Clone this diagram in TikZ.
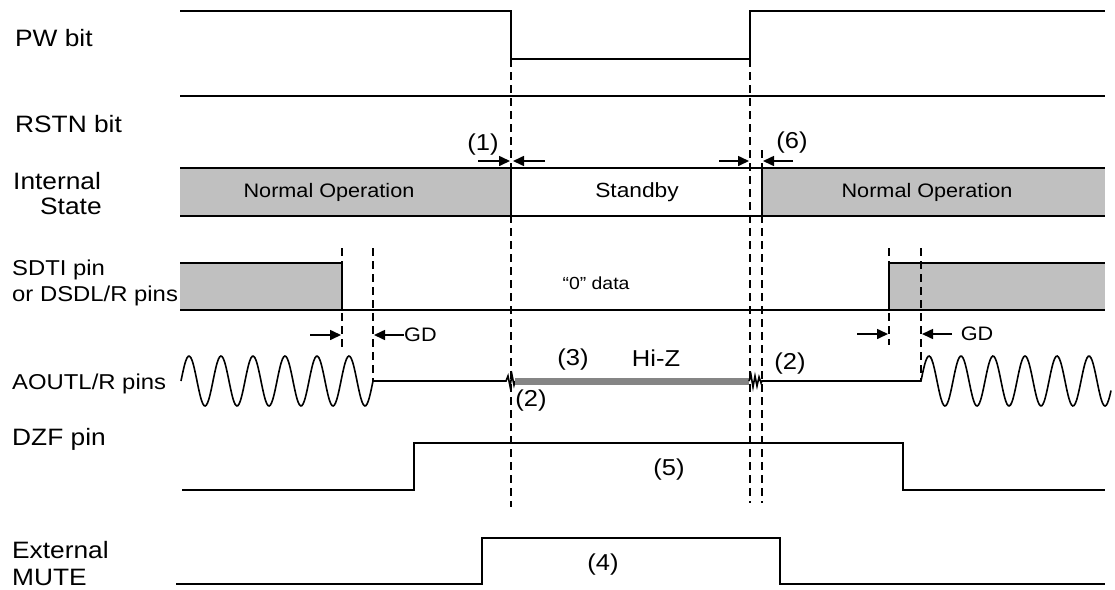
\documentclass[tikz,border=0pt]{standalone}
\usepackage{fontspec}
\setmainfont{Liberation Sans}[FakeStretch=1.11]
\usepackage{xcolor}
\usepackage{tikz}
\usetikzlibrary{arrows.meta}
\definecolor{boxgray}{HTML}{C0C0C0}
\definecolor{hizgray}{HTML}{858585}
\tikzset{
  signal/.style={draw=black,line width=1.6pt},
  guide/.style={draw=black,line width=1.4pt,dash pattern=on 8pt off 5pt},
  gap/.style={-{Triangle[length=11pt,width=10pt]},draw=black,line width=1.6pt},
  hizbar/.style={draw=hizgray,line width=7pt},
  rowlabel/.style={anchor=base west,inner sep=0pt,font=\fontsize{23.7}{26}\selectfont},
  pinlabel/.style={anchor=base west,inner sep=0pt,font=\fontsize{21.5}{24}\selectfont},
  note/.style={inner sep=0pt,font=\fontsize{23}{26}\selectfont},
  statetext/.style={inner sep=0pt,font=\fontsize{19.5}{22}\selectfont}
}

\begin{document}
\begin{tikzpicture}[x=1pt,y=-1pt]
  \useasboundingbox (0,0) rectangle (1115,589);
  % row labels
  \node[rowlabel] (pw) at (15,46) {PW bit};
  \node[rowlabel] (rstn) at (15,132) {RSTN bit};
  \node[rowlabel] (intl) at (13,189) {Internal};
  \node[rowlabel] (state) at (40,214) {State};
  \node[pinlabel] (sdti) at (12,275) {SDTI pin};
  \node[pinlabel] (dsdl) at (12,301) {or DSDL/R pins};
  \node[pinlabel] (aout) at (12,389) {AOUTL/R pins};
  \node[rowlabel] (dzf) at (12,445) {DZF pin};
  \node[rowlabel] (ext) at (12,558) {External};
  \node[rowlabel] (mute) at (12,585) {MUTE};
  % shaded areas
  \fill[boxgray] (180,168) rectangle (511,216);
  \fill[boxgray] (762,168) rectangle (1105,216);
  \fill[boxgray] (180,263) rectangle (342,310);
  \fill[boxgray] (889,263) rectangle (1105,310);
  % timing guides
  \draw[guide] (511,59) -- (511,507);
  \draw[guide] (750,59) -- (750,503);
  \draw[guide] (762,150) -- (762,503);
  \draw[guide] (342,248) -- (342,347);
  \draw[guide] (373,248) -- (373,381);
  \draw[guide] (889,248) -- (889,345);
  \draw[guide] (921,248) -- (921,381);
  % PW bit and RSTN bit
  \draw[signal] (180,11) -- (511,11) -- (511,59) -- (750,59) -- (750,11) -- (1105,11);
  \draw[signal] (180,96) -- (1105,96);
  % internal state
  \draw[signal] (180,168) -- (1105,168);
  \draw[signal] (180,216) -- (1105,216);
  \draw[signal] (511,168) -- (511,216);
  \draw[signal] (762,168) -- (762,216);
  \node[statetext] (norm1) at (329,192) {Normal Operation};
  \node[statetext,font=\fontsize{20.5}{22}\selectfont] (stby) at (637,192) {Standby};
  \node[statetext] (norm2) at (927,192) {Normal Operation};
  % SDTI / DSDL
  \draw[signal] (180,263) -- (342,263) -- (342,310);
  \draw[signal] (180,310) -- (1105,310);
  \draw[signal] (889,310) -- (889,263) -- (1105,263);
  \node[statetext,font=\fontsize{17.5}{20}\selectfont] (zero) at (596,283) {“0” data};
  % AOUTL/R
  \draw[signal] plot[domain=0:192,samples=160,smooth] ({181+\x},{381-25*sin(\x*11.25)})
    -- (506,381) -- (508,376) -- (510,386) -- (512,375) -- (514,385) -- (515,381);
  \draw[hizbar] (515,381) -- (749,381);
  \draw[signal] (749,381) -- (751,375) -- (753,387) -- (755,376) -- (757,386) -- (759,377)
    -- (761,383) -- (762,381) -- (921,381)
    -- plot[domain=0:190,samples=160,smooth] ({921+\x},{381-25*sin(\x*11.25)});
  \node[note] (n3) at (573,360) {(3)};
  \node[note] (hiztext) at (656,358) {Hi-Z};
  \node[note] (n2a) at (531,401) {(2)};
  \node[note] (n2b) at (790,364) {(2)};
  % DZF pin
  \draw[signal] (182,490) -- (414,490) -- (414,443) -- (903,443) -- (903,490) -- (1105,490);
  \node[note] (n5) at (669,470) {(5)};
  % external MUTE
  \draw[signal] (176,584) -- (482,584) -- (482,538) -- (780,538) -- (780,584) -- (1105,584);
  \node[note] (n4) at (603,565) {(4)};
  % delay marks
  \draw[gap] (478,161) -- (510,161);
  \draw[gap] (545,161) -- (513,161);
  \node[note] (n1) at (483,145) {(1)};
  \draw[gap] (719,161) -- (749,161);
  \draw[gap] (793,161) -- (763,161);
  \node[note] (n6) at (792,143) {(6)};
  \draw[gap] (310,335) -- (341,335);
  \draw[gap] (404,335) -- (374,335);
  \node[statetext,anchor=west] (gd1) at (404,335) {GD};
  \draw[gap] (857,334) -- (888,334);
  \draw[gap] (952,334) -- (922,334);
  \node[statetext] (gd2) at (977,334) {GD};
\end{tikzpicture}
\end{document}
